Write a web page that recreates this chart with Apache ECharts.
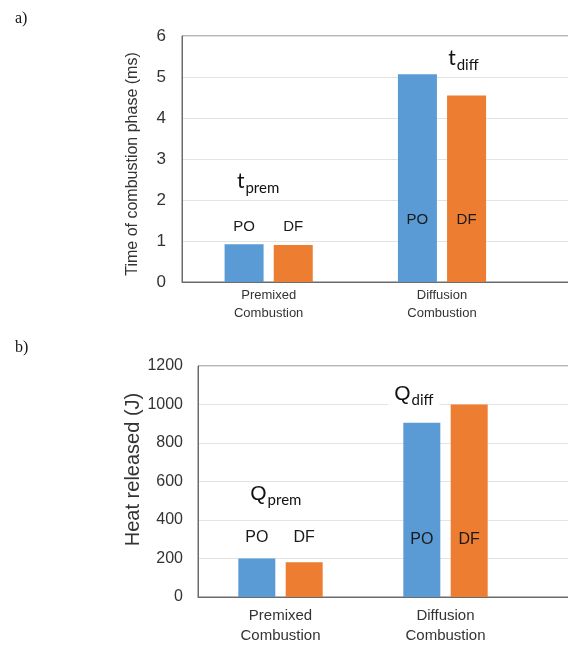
<!DOCTYPE html>
<html><head><meta charset="utf-8">
<script src="https://cdn.jsdelivr.net/npm/echarts@6/dist/echarts.min.js"></script>
<style>html,body{margin:0;padding:0;background:#fff}#c{width:568px;height:648px}</style>
</head><body><div id="c"></div>
<script>
const categories = ['Premixed\nCombustion', 'Diffusion\nCombustion'];
const seriesNames = ['PO', 'DF'];
const timePO = [0.92, 5.07];
const timeDF = [0.90, 4.55];
const heatPO = [200, 905];
const heatDF = [180, 1000];
const timeAxis = { min: 0, max: 6, interval: 1, name: 'Time of combustion phase (ms)' };
const heatAxis = { min: 0, max: 1200, interval: 200, name: 'Heat released (J)' };
const timeNotes = [['t', 'prem'], ['t', 'diff']];
const heatNotes = [['Q', 'prem'], ['Q', 'diff']];
const panelTags = ['a)', 'b)'];

const BLUE = '#5b9bd5', ORANGE = '#ed7d31';
const axisCats = categories.concat(['']);
const chart = echarts.init(document.getElementById('c'), null, { renderer: 'canvas' });

function note(pair, coord, offset, mainSize, subSize, mainFont, withBg) {
  return {
    coord: coord,
    symbol: 'circle', symbolSize: 0,
    label: {
      show: true, position: 'inside', offset: offset,
      formatter: '{m|' + pair[0] + '}{s|' + pair[1] + '}',
      backgroundColor: withBg ? '#fff' : 'transparent',
      padding: withBg ? [2, 6, 2, 6] : 0,
      rich: {
        m: { fontSize: mainSize, fontFamily: mainFont, color: '#111', lineHeight: mainSize + 3, verticalAlign: 'top' },
        s: { fontSize: subSize, fontFamily: 'Lato', color: '#111', lineHeight: subSize + 2, verticalAlign: 'top', padding: [Math.round(mainSize * 0.45), 0, 0, 1] }
      }
    }
  };
}

function barLabels(values, dists) {
  return values.map((v, i) => ({
    value: v,
    label: { show: true, position: 'insideBottom', distance: dists[i] }
  }));
}

function barSeries(idx, name, vals, color, dists, bw, gap, fs, notes) {
  const s = {
    type: 'bar', name: name, xAxisIndex: idx, yAxisIndex: idx,
    data: barLabels(vals, dists),
    barWidth: bw, barGap: gap,
    itemStyle: { color: color },
    label: { show: true, formatter: '{a}', color: '#1a1a1a', fontSize: fs, fontFamily: 'Liberation Sans' },
    silent: true, animation: false
  };
  if (notes) s.markPoint = { silent: true, animation: false, data: notes };
  return s;
}

const option = {
  animation: false,
  backgroundColor: '#fff',
  title: [
    { text: panelTags[0], left: 10, top: 6, textStyle: { fontFamily: 'Liberation Serif', fontSize: 16, fontWeight: 'normal', color: '#111' } },
    { text: panelTags[1], left: 10, top: 335, textStyle: { fontFamily: 'Liberation Serif', fontSize: 16, fontWeight: 'normal', color: '#111' } }
  ],
  grid: [
    { left: 182, top: 36, width: 520, height: 246, outerBoundsMode: 'none', containLabel: false, show: true, borderColor: '#6b6b6b', borderWidth: 1, backgroundColor: 'transparent' },
    { left: 198, top: 366, width: 495, height: 231, outerBoundsMode: 'none', containLabel: false, show: true, borderColor: '#6b6b6b', borderWidth: 1, backgroundColor: 'transparent' }
  ],
  xAxis: [
    { type: 'category', gridIndex: 0, data: axisCats, axisTick: { show: false },
      axisLine: { lineStyle: { color: '#6b6b6b' } },
      axisLabel: { interval: 0, color: '#333', fontSize: 13, lineHeight: 18, fontFamily: 'Liberation Sans', margin: 4 } },
    { type: 'category', gridIndex: 1, data: axisCats, axisTick: { show: false },
      axisLine: { lineStyle: { color: '#6b6b6b' } },
      axisLabel: { interval: 0, color: '#333', fontSize: 15, lineHeight: 20, fontFamily: 'Liberation Sans', margin: 9 } }
  ],
  yAxis: [
    { type: 'value', gridIndex: 0, min: timeAxis.min, max: timeAxis.max, interval: timeAxis.interval,
      name: timeAxis.name, nameLocation: 'middle', nameGap: 41, nameMoveOverlap: false,
      nameTextStyle: { fontSize: 16, color: '#333', fontFamily: 'Liberation Sans', padding: [0, 10, 0, 0] },
      axisLine: { show: true, lineStyle: { color: '#6b6b6b' } }, axisTick: { show: false },
      axisLabel: { fontSize: 17, color: '#333', fontFamily: 'Liberation Sans', margin: 16, formatter: v => String(v) },
      splitLine: { lineStyle: { color: '#e3e3e3' } } },
    { type: 'value', gridIndex: 1, min: heatAxis.min, max: heatAxis.max, interval: heatAxis.interval,
      name: heatAxis.name, nameLocation: 'middle', nameGap: 55, nameMoveOverlap: false,
      nameTextStyle: { fontSize: 20, color: '#333', fontFamily: 'Liberation Sans', padding: [0, 0, 0, 24] },
      axisLine: { show: true, lineStyle: { color: '#6b6b6b' } }, axisTick: { show: false },
      axisLabel: { fontSize: 16, color: '#333', fontFamily: 'Liberation Sans', margin: 15, formatter: v => String(v) },
      splitLine: { lineStyle: { color: '#e3e3e3' } } }
  ],
  series: [
    barSeries(0, seriesNames[0], timePO, BLUE, [48, 55], 39, '26%', 15, [
      note(timeNotes[0], [0, 2.41], [14, 0], 21, 15, 'Lato', false),
      note(timeNotes[1], [1, 5.41], [46, 0], 21, 15, 'Lato', true)
    ]),
    barSeries(0, seriesNames[1], timeDF, ORANGE, [48, 55], 39, '26%', 15),
    barSeries(1, seriesNames[0], heatPO, BLUE, [51, 49], 37, '28%', 16, [
      note(heatNotes[0], [0, 525], [19, 0], 21, 15, 'Liberation Sans', true),
      note(heatNotes[1], [1, 1044], [-8, 0], 21, 15, 'Liberation Sans', true)
    ]),
    barSeries(1, seriesNames[1], heatDF, ORANGE, [51, 49], 37, '28%', 16)
  ]
};
chart.setOption(option);
</script>
</body></html>
